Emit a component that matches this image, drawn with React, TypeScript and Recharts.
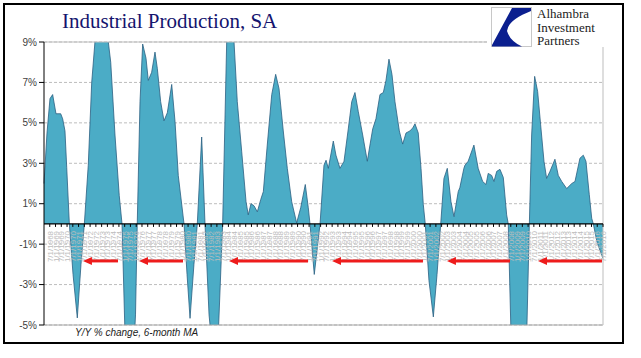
import React from "react";
import {
  AreaChart,
  Area,
  XAxis,
  YAxis,
  CartesianGrid,
  ReferenceLine,
} from "recharts";

// Y/Y % change in industrial production, 6-month MA
const years = [
  1968.0, 1968.26, 1968.52, 1968.75, 1969.04, 1969.45, 1969.62, 1969.82, 1969.97, 1970.2,
  1970.52, 1970.89, 1971.21, 1971.5, 1971.84, 1972.14, 1972.42, 1972.86, 1973.21, 1973.58,
  1973.79, 1974.16, 1974.53, 1974.77, 1975.03, 1975.37, 1975.72, 1975.94, 1976.09, 1976.33,
  1976.56, 1976.85, 1977.05, 1977.34, 1977.63, 1977.83, 1978.12, 1978.41, 1978.7, 1979.08,
  1979.37, 1979.65, 1980.15, 1980.41, 1980.67, 1981.01, 1981.3, 1981.68, 1981.97, 1982.32,
  1982.75, 1983.14, 1983.5, 1983.85, 1984.14, 1984.44, 1984.77, 1985.15, 1985.53, 1985.72,
  1985.96, 1986.22, 1986.51, 1986.8, 1987.03, 1987.37, 1987.76, 1988.1, 1988.39, 1988.76,
  1989.11, 1989.49, 1989.92, 1990.27, 1990.67, 1990.93, 1991.08, 1991.45, 1991.95, 1992.29,
  1992.47, 1992.67, 1993.1, 1993.33, 1993.68, 1994.03, 1994.4, 1994.7, 1994.98, 1995.27,
  1995.65, 1996.05, 1996.28, 1996.52, 1996.8, 1997.15, 1997.44, 1997.67, 1997.93, 1998.19,
  1998.45, 1998.83, 1999.12, 1999.41, 1999.75, 1999.99, 2000.19, 2000.47, 2000.71, 2000.91,
  2001.08, 2001.4, 2001.78, 2002.1, 2002.42, 2002.7, 2002.99, 2003.31, 2003.57, 2003.94,
  2004.08, 2004.43, 2004.52, 2004.8, 2005.3, 2005.67, 2006.06, 2006.35, 2006.54, 2006.84,
  2007.04, 2007.28, 2007.56, 2007.85, 2008.14, 2008.28, 2008.52, 2008.86, 2009.21, 2009.56,
  2009.86, 2010.11, 2010.31, 2010.57, 2010.83, 2011.09, 2011.38, 2011.61, 2011.9, 2012.33,
  2012.62, 2012.92, 2013.35, 2013.79, 2014.07, 2014.5, 2014.79, 2015.02, 2015.31, 2015.52,
  2015.66, 2015.98, 2016.39, 2016.5,
];

const values = [
  2.0, 4.5, 6.2, 6.4, 5.45, 5.45, 5.2, 4.6, 2.8, 0,
  -2.5, -4.65, -2.0, 0, 2.9, 7.0, 9.0, 10.3, 10.3, 9.0,
  8.0, 4.4, 1.4, 0, -5.5, -9.0, -7.0, -4.5, 0, 6.05,
  8.9, 8.2, 7.1, 7.5, 8.5, 7.7, 6.05, 5.1, 5.5, 6.9,
  5.05, 2.4, 0, -2.5, -4.67, -2.0, 0, 4.3, 0, -4.5,
  -7.0, -5.2, 0, 9.0, 10.8, 9.5, 6.05, 3.6, 1.1, 0.45,
  1.0, 0.9, 0.6, 1.2, 1.6, 3.9, 6.4, 7.4, 6.7, 4.6,
  2.75, 1.1, 0.05, 0.8, 1.95, 0.8, 0, -2.5, 0, 2.9,
  3.15, 2.75, 4.1, 3.4, 2.75, 3.1, 4.7, 6.05, 6.5, 5.55,
  4.4, 3.1, 3.9, 4.7, 5.2, 6.4, 6.5, 7.1, 8.15, 7.4,
  6.05, 4.6, 3.95, 4.5, 4.6, 4.75, 4.95, 4.5, 2.75, 0.95,
  0, -2.8, -4.6, -2.5, 0, 2.25, 2.75, 1.1, 0.36, 1.6,
  1.8, 2.75, 2.9, 3.1, 3.9, 2.75, 2.1, 1.95, 2.5, 2.4,
  2.1, 2.6, 2.7, 2.3, 0.45, 0, -5.5, -9.5, -11.5, -10.0,
  -6.0, 0, 4.4, 7.3, 6.55, 4.9, 3.1, 2.25, 2.6, 3.2,
  2.4, 2.1, 1.75, 2.0, 2.1, 3.25, 3.4, 3.1, 1.45, 0.28,
  0, -0.9, -1.55, -1.7,
];

const yTicks = [-5, -3, -1, 1, 3, 5, 7, 9];

// half-year ticks on the time axis
const xTicks = Array.from({ length: 97 }, (_, i) => 1968.5 + i * 0.5);

// red arrows (start / end year), drawn at -1.8%
const arrowFrom = [1971.38, 1976.24, 1984.05, 1992.99, 2002.96, 2010.86];
const arrowTo = [1974.42, 1980.06, 1990.91, 2000.88, 2008.43, 2016.41];
const arrowLevel = -1.83;

const data = years.map((x, i) => ({ x, v: values[i] }));

const W = 641;
const H = 358;
const margin = { top: 42, right: 38, bottom: 3, left: 4 };
const xAxisH = 30;
const yMin = -5;
const yMax = 9;
const plotH = H - margin.top - margin.bottom - xAxisH;
const zeroY = margin.top + (plotH * yMax) / (yMax - yMin);

const XTick = (props: any) => {
  const { x, payload } = props;
  const t = payload.value as number;
  const mon = t % 1 === 0 ? "1/1" : "7/1";
  const yr = Math.floor(t);
  const ty = zeroY + 7;
  return (
    <g>
      <line x1={x} x2={x} y1={zeroY} y2={zeroY + 3} stroke="#000" />
      <text
        x={x}
        y={ty}
        transform={`rotate(-90 ${x} ${ty})`}
        textAnchor="end"
        dy={3}
        fontSize={8}
        fontFamily="Liberation Sans, Arial, sans-serif"
        fill="#bcbcbc"
      >
        {`${mon}/${yr}`}
      </text>
    </g>
  );
};

const Arrow = (p: any) => {
  const xa = Math.min(p.x1, p.x2);
  const xb = Math.max(p.x1, p.x2);
  const y = p.y1;
  return (
    <g>
      <line x1={xa + 6} y1={y} x2={xb} y2={y} stroke="#ee1c1c" strokeWidth={3} />
      <polygon points={`${xa},${y} ${xa + 9},${y - 4} ${xa + 9},${y + 4}`} fill="#ee1c1c" />
    </g>
  );
};

const Logo = () => (
  <div
    style={{
      position: "absolute",
      left: 487,
      top: 5,
      width: 133,
      height: 42,
      background: "#fff",
    }}
  >
    <svg width={42} height={41} style={{ position: "absolute", left: 4, top: 2 }}>
      <rect x={0.5} y={0.5} width={40} height={39} fill="#fff" stroke="#c8c8c8" />
      <path d="M21,1 L40,1 L40,4 Q17,13 16,24 Q19,34 31,39.5 L1,39.5 L1,38 Z" fill="#0b1f8f" />
    </svg>
    <div
      style={{
        position: "absolute",
        left: 50,
        top: 2,
        fontFamily: "Liberation Serif, Times New Roman, serif",
        fontSize: 13,
        lineHeight: "13.5px",
        color: "#222",
      }}
    >
      Alhambra
      <br />
      Investment
      <br />
      Partners
    </div>
  </div>
);

export default function App() {
  return (
    <div
      style={{
        position: "absolute",
        left: 0,
        top: 0,
        width: W,
        height: H,
        background: "#fff",
        overflow: "hidden",
      }}
    >
      <AreaChart width={W} height={H} data={data} margin={margin}>
        <CartesianGrid
          vertical={false}
          stroke="#bdbdbd"
          strokeDasharray="3 2"
        />
        <XAxis
          dataKey="x"
          type="number"
          domain={[1968, 2016.5]}
          ticks={xTicks}
          interval={0}
          height={xAxisH}
          axisLine={false}
          tickLine={false}
          tick={XTick}
        />
        <YAxis
          type="number"
          domain={[yMin, yMax]}
          ticks={yTicks}
          allowDataOverflow
          width={40}
          tickSize={5}
          tickMargin={2}
          axisLine={{ stroke: "#000" }}
          tickLine={{ stroke: "#000" }}
          tickFormatter={(v: number) => `${v}%`}
          tick={{ fontSize: 10, fill: "#404040", fontFamily: "Liberation Sans, Arial, sans-serif" }}
        />
        <Area
          type="linear"
          dataKey="v"
          stroke="#2b5f82"
          strokeWidth={0.8}
          fill="#4bacc6"
          fillOpacity={1}
          dot={false}
          activeDot={false}
          isAnimationActive={false}
        />
        <ReferenceLine y={yMax} stroke="#bdbdbd" />
        <ReferenceLine y={yMin} stroke="#a6a6a6" />
        <ReferenceLine x={2016.5} stroke="#bdbdbd" />
        <ReferenceLine y={0} stroke="#000" strokeWidth={1.2} />
        {arrowFrom.map((a, i) => (
          <ReferenceLine
            key={i}
            zIndex={2000}
            segment={[
              { x: a, y: arrowLevel },
              { x: arrowTo[i], y: arrowLevel },
            ]}
            shape={Arrow}
          />
        ))}
      </AreaChart>
      <div
        style={{
          position: "absolute",
          left: 62,
          top: 9,
          fontFamily: "Liberation Serif, Times New Roman, serif",
          fontSize: 21,
          color: "#14146e",
          whiteSpace: "nowrap",
        }}
      >
        Industrial Production, SA
      </div>
      <div
        style={{
          position: "absolute",
          left: 75,
          top: 327,
          fontFamily: "Liberation Sans, Arial, sans-serif",
          fontStyle: "italic",
          fontSize: 10,
          color: "#222",
          whiteSpace: "nowrap",
        }}
      >
        Y/Y % change, 6-month MA
      </div>
      <Logo />
      <div
        style={{
          position: "absolute",
          left: 3,
          top: 3,
          width: 617,
          height: 337,
          border: "2px solid #000",
          pointerEvents: "none",
        }}
      />
    </div>
  );
}
